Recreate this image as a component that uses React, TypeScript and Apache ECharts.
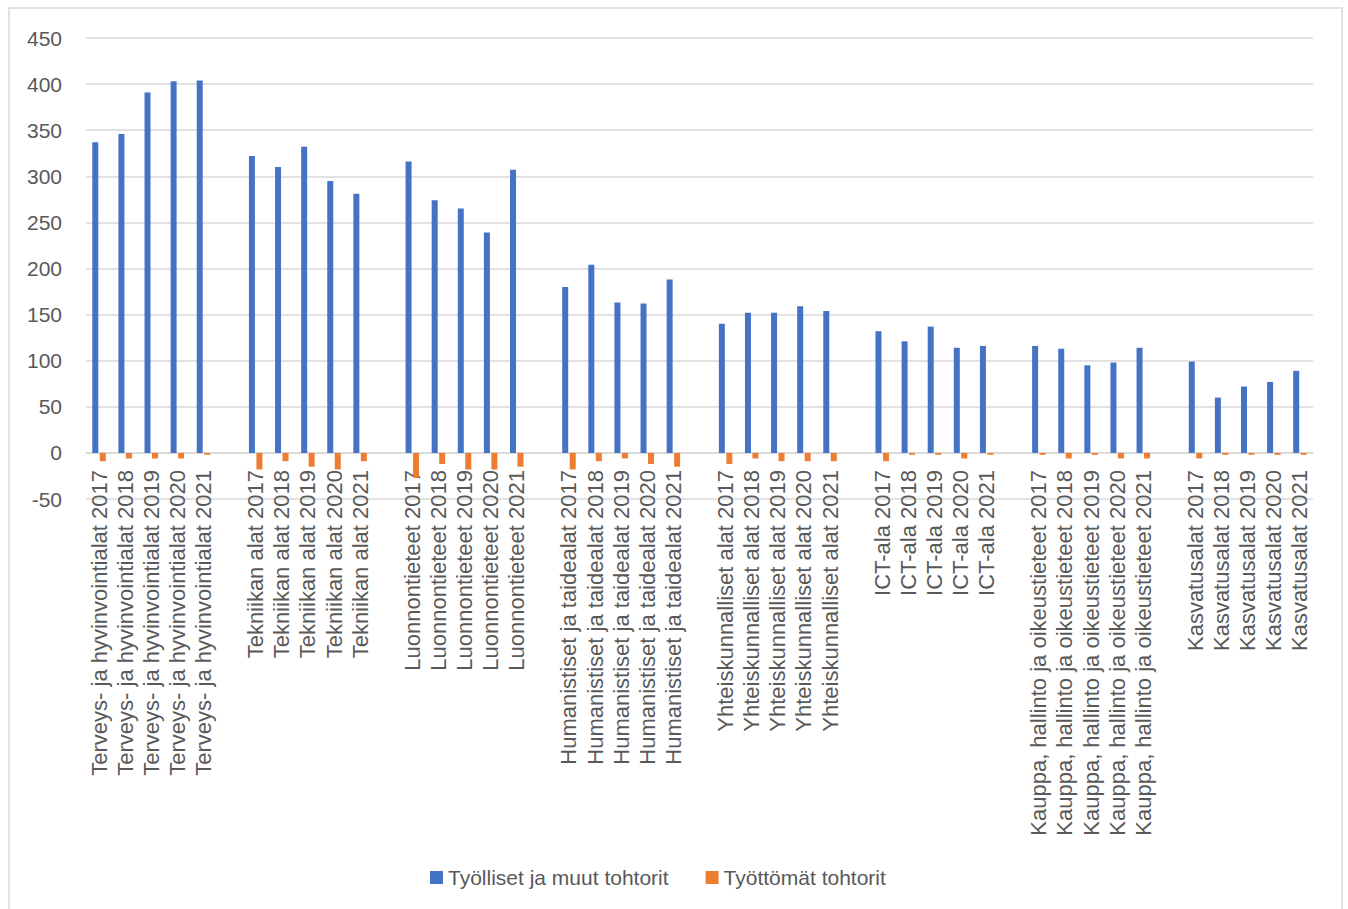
import React, { useEffect, useRef } from "react";
import * as echarts from "echarts";

const groups = [
  "Terveys- ja hyvinvointialat",
  "Tekniikan alat",
  "Luonnontieteet",
  "Humanistiset ja taidealat",
  "Yhteiskunnalliset alat",
  "ICT-ala",
  "Kauppa, hallinto ja oikeustieteet",
  "Kasvatusalat",
];
const years = ["2017", "2018", "2019", "2020", "2021"];

const employed = [
  [337, 346, 391, 403, 404],
  [322, 310, 332, 295, 281],
  [316, 274, 265, 239, 307],
  [180, 204, 163, 162, 188],
  [140, 152, 152, 159, 154],
  [132, 121, 137, 114, 116],
  [116, 113, 95, 98, 114],
  [99, 60, 72, 77, 89],
];
const unemployed = [
  [-9, -6, -6, -6, -2],
  [-18, -9, -15, -18, -9],
  [-27, -12, -18, -18, -15],
  [-18, -9, -6, -12, -15],
  [-12, -6, -9, -9, -9],
  [-9, -2, -2, -6, -2],
  [-2, -6, -2, -6, -6],
  [-6, -2, -2, -2, -2],
];
const seriesNames = ["Työlliset ja muut tohtorit", "Työttömät tohtorit"];
const yTicks = { min: -50, max: 450, interval: 50 };

const TEXT = "#595959";
const GRID = "#D9D9D9";
const FONT = "Liberation Sans";

export default function App() {
  const ref = useRef<HTMLDivElement>(null);
  useEffect(() => {
    if (!ref.current) return;
    const chart = echarts.init(ref.current, undefined, { renderer: "svg" });
    const cats: string[] = [];
    const s1: (number | null)[] = [];
    const s2: (number | null)[] = [];
    groups.forEach((g, gi) => {
      if (gi > 0) {
        cats.push("");
        s1.push(null);
        s2.push(null);
      }
      years.forEach((y, yi) => {
        cats.push(g + " " + y);
        s1.push(employed[gi][yi]);
        s2.push(unemployed[gi][yi]);
      });
    });
    chart.setOption({
      animation: false,
      backgroundColor: "#fff",
      textStyle: { fontFamily: FONT },
      graphic: [
        {
          type: "rect",
          shape: { x: 9, y: 8, width: 1333, height: 920 },
          style: { fill: "none", stroke: GRID, lineWidth: 1.5 },
          silent: true,
          z: -10,
        },
      ],
      grid: { left: 86, right: 35, top: 38, bottom: 410, containLabel: false },
      legend: {
        left: 425,
        top: 862,
        itemWidth: 13,
        itemHeight: 13,
        itemGap: 37,
        icon: "rect",
        textStyle: { fontSize: 21, color: TEXT, fontFamily: FONT },
        data: seriesNames,
      },
      xAxis: {
        type: "category",
        data: cats,
        axisTick: { show: false },
        axisLine: { onZero: true, lineStyle: { color: GRID, width: 1.5 } },
        axisLabel: {
          interval: 0,
          rotate: 90,
          margin: -29,
          fontSize: 22,
          color: TEXT,
          fontFamily: FONT,
        },
        splitLine: { show: false },
      },
      yAxis: {
        type: "value",
        min: yTicks.min,
        max: yTicks.max,
        interval: yTicks.interval,
        axisLine: { show: false },
        axisTick: { show: false },
        axisLabel: { margin: 24, fontSize: 21, color: TEXT, fontFamily: FONT },
        splitLine: { lineStyle: { color: GRID, width: 1.5 } },
      },
      series: [
        {
          name: seriesNames[0],
          type: "bar",
          data: s1,
          barWidth: 6,
          barGap: "25%",
          itemStyle: { color: "#4472C4" },
        },
        {
          name: seriesNames[1],
          type: "bar",
          data: s2,
          barWidth: 6,
          barGap: "25%",
          itemStyle: { color: "#ED7D31" },
        },
      ],
    });
    return () => chart.dispose();
  }, []);
  return (
    <div
      ref={ref}
      style={{ position: "absolute", left: 0, top: 0, width: 1348, height: 909 }}
    />
  );
}
